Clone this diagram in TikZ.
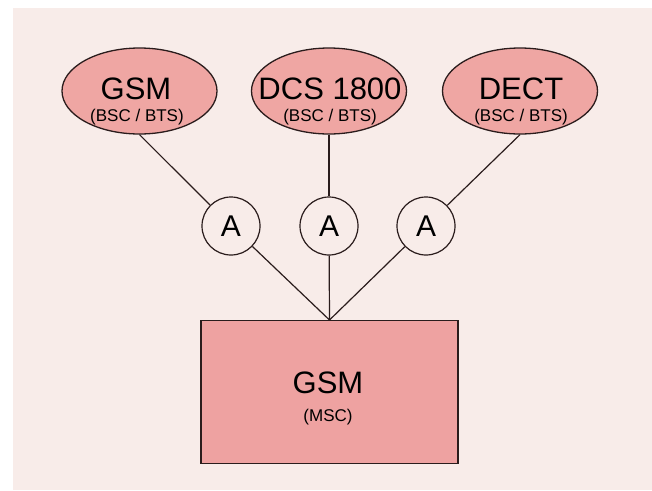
\documentclass[tikz,border=0pt]{standalone}
\usepackage{fontspec}
\setmainfont{Liberation Sans}
\usetikzlibrary{shapes.geometric}
\definecolor{bgpink}{HTML}{F8ECE9}
\definecolor{shapepink}{HTML}{EFA6A3}
\definecolor{boxpink}{HTML}{EEA2A1}
\definecolor{ink}{HTML}{2A1C1C}
\begin{document}
\begin{tikzpicture}[x=1pt,y=-1pt,
  bss/.style={ellipse, draw=ink, line width=1.3pt, fill=shapepink, minimum width=155pt, minimum height=86pt, inner sep=0pt, align=center},
  iface/.style={circle, draw=ink, line width=1.2pt, fill=bgpink, minimum size=58pt, inner sep=0pt, font=\fontsize{30}{30}\selectfont},
  mscbox/.style={rectangle, draw=ink, line width=1.2pt, fill=boxpink, minimum width=257pt, minimum height=143pt, inner sep=0pt, align=center},
  conn/.style={draw=ink, line width=1.2pt},
  bigtxt/.style={font=\fontsize{31}{31}\selectfont},
  smalltxt/.style={font=\fontsize{17}{17}\selectfont}
]
\useasboundingbox (0,0) rectangle (652,490);
\fill[white] (0,0) rectangle (652,490);
\fill[bgpink] (13,8) rectangle (652,490);
% ellipses
\node[bss] (gsm) at (139.5,91) {};
\node[bss] (dcs) at (329,91) {};
\node[bss] (dect) at (520,91) {};
\node[bigtxt, anchor=base] (gsmt) at (136,99) {GSM};
\node[smalltxt, anchor=base] (gsms) at (137,121) {(BSC / BTS)};
\node[bigtxt, anchor=base] (dcst) at (330,99) {DCS 1800};
\node[smalltxt, anchor=base] (dcss) at (330,121) {(BSC / BTS)};
\node[bigtxt, anchor=base] (dectt) at (521,99) {DECT};
\node[smalltxt, anchor=base] (dects) at (521,121) {(BSC / BTS)};
% interface circles
\node[iface] (a1) at (231,226) {A};
\node[iface] (a2) at (329,226) {A};
\node[iface] (a3) at (426,226) {A};
% MSC box
\node[mscbox, anchor=north] (msc) at (329.5,320) {};
\node[bigtxt, anchor=base] (msct) at (328,393) {GSM};
\node[smalltxt, anchor=base] (mscs) at (328,421) {(MSC)};
% connectors
\draw[conn] (gsm.south) -- (a1);
\draw[conn] (dcs.south) -- (a2);
\draw[conn] (dect.south) -- (a3);
\draw[conn] (a1) -- (msc.north);
\draw[conn] (a2) -- (msc.north);
\draw[conn] (a3) -- (msc.north);
\end{tikzpicture}
\end{document}
